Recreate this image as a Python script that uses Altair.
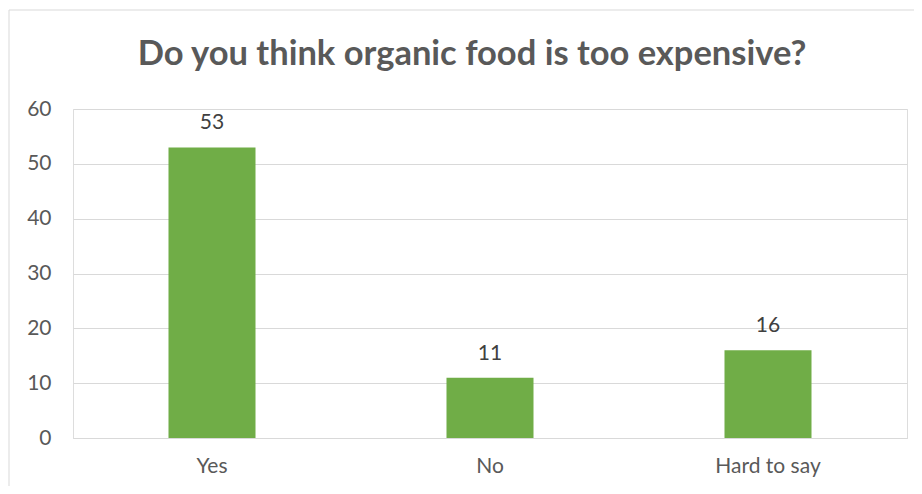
import altair as alt
import pandas as pd

categories = ["Yes", "No", "Hard to say"]
values = [53, 11, 16]
y_ticks = [0, 10, 20, 30, 40, 50, 60]
title_text = "Do you think organic food is too expensive?"

df = pd.DataFrame({"answer": categories, "count": values})

FONT = "Lato"
W, H = 834, 329

base = alt.Chart(df)

x_enc = alt.X(
    "answer:N",
    sort=categories,
    title=None,
    scale=alt.Scale(paddingInner=0.687, paddingOuter=0.3435),
    axis=alt.Axis(
        labelAngle=0, ticks=False, domain=True, domainColor="#D9D9D9",
        labelColor="#595959", labelFont=FONT, labelFontSize=21, labelPadding=17,
    ),
)
y_enc = alt.Y(
    "count:Q",
    title=None,
    scale=alt.Scale(domain=[0, 60], nice=False),
    axis=alt.Axis(
        values=y_ticks, ticks=False, domain=False, grid=True, gridColor="#D9D9D9",
        labelColor="#595959", labelFont=FONT, labelFontSize=21, labelPadding=22,
    ),
)

bars = base.mark_bar(color="#70AD47").encode(x=x_enc, y=y_enc)
labels = base.mark_text(
    baseline="bottom", dy=-14, font=FONT, fontSize=21, color="#404040"
).encode(x=alt.X("answer:N", sort=categories), y="count:Q", text="count:Q")

one = pd.DataFrame({"t": [title_text]})
title_mark = alt.Chart(one).mark_text(
    font=FONT, fontSize=34.5, fontWeight="bold", color="#595959",
    baseline="alphabetic", align="center",
).encode(x=alt.value(W / 2 - 18), y=alt.value(-44), text="t:N")

border_v = alt.Chart(one).mark_rule(color="#D9D9D9").encode(
    x=alt.value(-64), y=alt.value(-99), y2=alt.value(H + 80)
)
border_h = alt.Chart(one).mark_rule(color="#D9D9D9").encode(
    x=alt.value(-64), x2=alt.value(W + 80), y=alt.value(-99)
)

chart = alt.layer(border_v, border_h, bars, labels, title_mark).properties(
    width=W,
    height=H,
    autosize=alt.AutoSizeParams(type="none"),
    padding={"left": 65, "top": 101, "right": 7, "bottom": 48},
).configure_view(stroke=None).configure(background="white")

chart.save("out.html", embed_options={"renderer": "svg", "actions": False})
